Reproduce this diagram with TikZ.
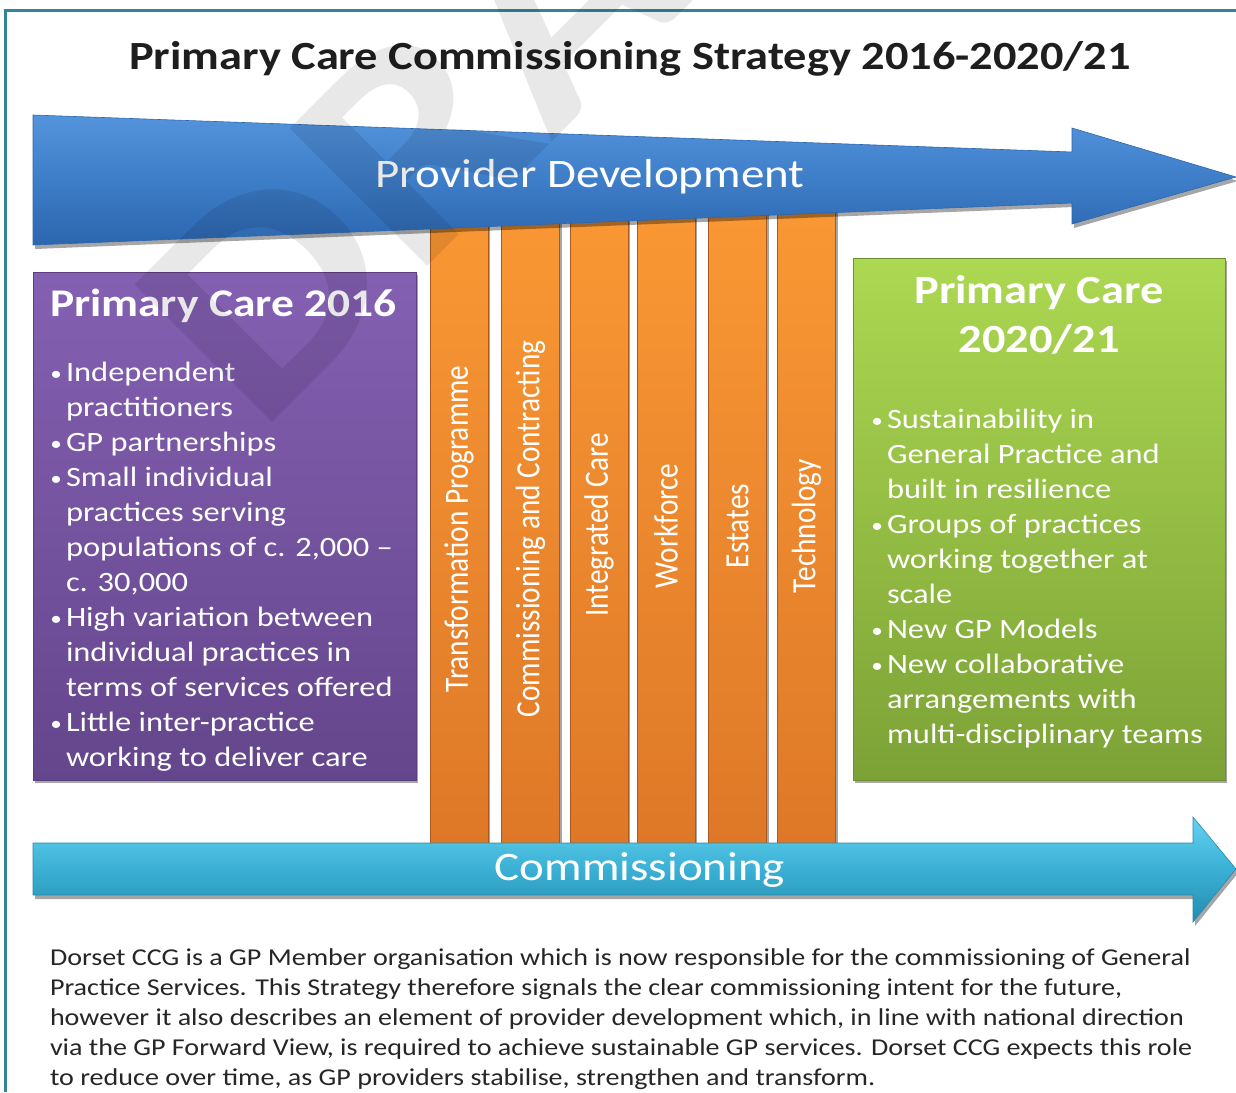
\documentclass[tikz,border=0pt]{standalone}
\usepackage{fontspec}
\usepackage{graphicx}
\setmainfont{Carlito}[FakeStretch=1.16]
\newfontfamily\vfont{Carlito}
\usetikzlibrary{shadows}
\definecolor{bordercol}{RGB}{49,132,155}
\definecolor{titlecol}{RGB}{30,30,30}
\definecolor{bluetop}{RGB}{84,148,220}
\definecolor{bluemid}{RGB}{62,125,200}
\definecolor{bluebot}{RGB}{44,102,175}
\definecolor{orangetop}{RGB}{250,152,52}
\definecolor{orangebot}{RGB}{222,120,40}
\definecolor{orangeedge}{RGB}{170,90,30}
\definecolor{purpletop}{RGB}{132,96,178}
\definecolor{purplebot}{RGB}{100,70,140}
\definecolor{purpleedge}{RGB}{90,62,125}
\definecolor{greentop}{RGB}{172,216,82}
\definecolor{greenbot}{RGB}{124,162,54}
\definecolor{greenedge}{RGB}{110,145,45}
\definecolor{cyantop}{RGB}{100,210,238}
\definecolor{cyanmid}{RGB}{58,176,212}
\definecolor{cyanbot}{RGB}{36,140,175}
\definecolor{paracol}{RGB}{38,38,38}
\newcommand{\bul}{\llap{\raisebox{1pt}{\fontsize{20}{20}\selectfont•}\hspace{4pt}}}
\begin{document}
\begin{tikzpicture}[x=1pt,y=-1pt,
  every node/.style={inner sep=0pt, outer sep=0pt},
  softshadow/.style={drop shadow={shadow xshift=2pt, shadow yshift=-3pt, opacity=0.35, fill=black}},
  barbox/.style={draw=orangeedge, line width=0.8pt, top color=orangetop, bottom color=orangebot,
    minimum width=58pt, minimum height=645pt, softshadow},
  bartext/.style={rotate=90, text=white, font=\vfont\fontsize{29.3}{30}\selectfont},
  purplebox/.style={draw=purpleedge, line width=0.8pt, top color=purpletop, bottom color=purplebot,
    minimum width=383pt, minimum height=508pt, softshadow},
  greenbox/.style={draw=greenedge, line width=0.8pt, top color=greentop, bottom color=greenbot,
    minimum width=372pt, minimum height=522pt, softshadow},
  boxlist/.style={text=white, align=left, font=\fontsize{28}{35}\selectfont},
  arrowtext/.style={text=white, font=\fontsize{40.5}{44}\selectfont},
]
\useasboundingbox (0,0) rectangle (1236,1092);
\clip (0,0) rectangle (1236,1092);
\fill[white] (0,0) rectangle (1236,1092);

% frame
\coordinate (fr1) at (1236,10);
\coordinate (fr2) at (5,10);
\coordinate (fr3) at (5,1092);
\draw[bordercol, line width=3pt] (fr1) -- (fr2) -- (fr3);

% title
\node[text=titlecol, font=\bfseries\fontsize{40}{46}\selectfont] (title) at (630,59) {Primary Care Commissioning Strategy 2016-2020/21};

% orange bars
\node[barbox] (bar1) at (459,521) {};
\node[barbox] (bar2) at (530.5,521) {};
\node[barbox] (bar3) at (599,521) {};
\node[barbox] (bar4) at (666,521) {};
\node[barbox] (bar5) at (737.5,521) {};
\node[barbox] (bar6) at (806.5,521) {};
\node[bartext] (lab1) at (459,529) {\scalebox{1}[1.16]{Transformation Programme}};
\node[bartext] (lab2) at (530.5,529) {\scalebox{1}[1.16]{Commissioning and Contracting}};
\node[bartext] (lab3) at (599,525) {\scalebox{1}[1.16]{Integrated Care}};
\node[bartext] (lab4) at (666,526) {\scalebox{1}[1.16]{Workforce}};
\node[bartext] (lab5) at (737.5,526) {\scalebox{1}[1.16]{Estates}};
\node[bartext] (lab6) at (806.5,526) {\scalebox{1}[1.16]{Technology}};

% provider development arrow
\coordinate (pa1) at (33,115);
\coordinate (pa2) at (1072,152);
\coordinate (pa3) at (1072,128);
\coordinate (pa4) at (1236,177);
\coordinate (pa5) at (1072,224);
\coordinate (pa6) at (1072,203);
\coordinate (pa7) at (33,245);
\shade[top color=bluetop, bottom color=bluebot, middle color=bluemid, draw=bluebot, line width=0.6pt,
  drop shadow={shadow xshift=2pt, shadow yshift=-4pt, opacity=0.35, fill=black}]
  (pa1) -- (pa2) -- (pa3) -- (pa4) -- (pa5) -- (pa6) -- (pa7) -- cycle;
\node[arrowtext] (pdtext) at (590,177) {Provider Development};

% purple box
\node[purplebox] (box16) at (224.5,526) {};
\node[text=white, font=\bfseries\fontsize{39.2}{49}\selectfont, anchor=west] (head16) at (50,306) {Primary Care 2016};
\node[boxlist, anchor=north west] (list16) at (66,362) {%
\bul Independent\\
practitioners\\
\bul GP partnerships\\
\bul Small individual\\
practices serving\\
populations of c. 2,000 –\\
c. 30,000\\
\bul High variation between\\
individual practices in\\
terms of services offered\\
\bul Little inter-practice\\
working to deliver care};

% green box
\node[greenbox] (box21) at (1039,519) {};
\node[text=white, font=\bfseries\fontsize{40}{49}\selectfont, align=center] (head21) at (1039,315) {Primary Care\\2020/21};
\node[boxlist, anchor=north west] (list21) at (887,409) {%
\bul Sustainability in\\
General Practice and\\
built in resilience\\
\bul Groups of practices\\
working together at\\
scale\\
\bul New GP Models\\
\bul New collaborative\\
arrangements with\\
multi-disciplinary teams};

% commissioning arrow
\coordinate (ca1) at (33,843);
\coordinate (ca2) at (1193,843);
\coordinate (ca3) at (1193,817);
\coordinate (ca4) at (1236,869);
\coordinate (ca5) at (1193,922);
\coordinate (ca6) at (1193,895);
\coordinate (ca7) at (33,895);
\shade[top color=cyantop, bottom color=cyanbot, middle color=cyanmid, draw=cyanbot, line width=0.6pt,
  drop shadow={shadow xshift=2pt, shadow yshift=-4pt, opacity=0.35, fill=black}]
  (ca1) -- (ca2) -- (ca3) -- (ca4) -- (ca5) -- (ca6) -- (ca7) -- cycle;
\node[arrowtext] (comtext) at (640,870) {Commissioning};

% paragraph
\node[anchor=north west, align=left, text=paracol, font=\fontsize{24.2}{30}\selectfont] (para) at (50,949) {%
Dorset CCG is a GP Member organisation which is now responsible for the commissioning of General\\
Practice Services. This Strategy therefore signals the clear commissioning intent for the future,\\
however it also describes an element of provider development which, in line with national direction\\
via the GP Forward View, is required to achieve sustainable GP services. Dorset CCG expects this role\\
to reduce over time, as GP providers stabilise, strengthen and transform.};

% watermark
\node[rotate=45, anchor=base west, text=black, opacity=0.09, font=\bfseries\fontsize{300}{300}\selectfont] (wm) at (258,436) {DRAFT};
\end{tikzpicture}
\end{document}
